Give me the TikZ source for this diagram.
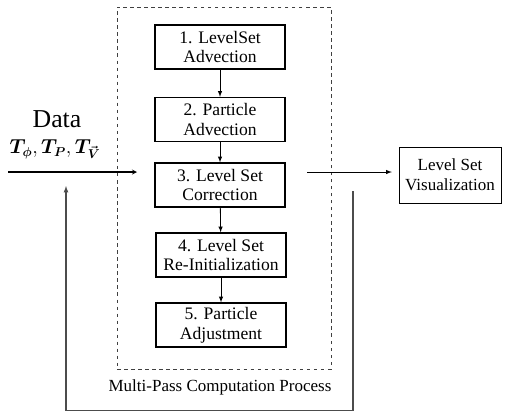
\documentclass[tikz,border=0pt]{standalone}
\usepackage{amsmath}
\usepackage{fontspec}
\setmainfont{Liberation Serif}
\usetikzlibrary{positioning}

\tikzset{
  etape/.style={draw, line width=1.1pt, align=center, minimum width=3.9cm,
    minimum height=1.32cm, inner sep=2pt, font=\rmfamily\fontsize{15}{17}\selectfont},
  fleche/.style={>=latex, ->, line width=0.7pt},
  retour/.style={line width=0.9pt, black!70}
}

\begin{document}
\begin{tikzpicture}[x=0.03cm, y={(0cm,-0.03cm)}, font=\rmfamily]
  \useasboundingbox (0,0) rectangle (507,412);
  % Cadre du processus
  \node (process) [draw, dashed, black!75, line width=0.7pt, minimum width=6.42cm,
    minimum height=10.86cm] at (224,188) {};
  \node (label) at (220,387) [font=\rmfamily\fontsize{14.5}{16}\selectfont] {Multi-Pass Computation Process};
  % Etapes
  \node (step1) [etape] at (220,47) {1. LevelSet\\Advection};
  \node (step2) [etape] at (220,119.5) {2. Particle\\Advection};
  \node (step3) [etape] at (220,185) {3. Level Set\\Correction};
  \node (step4) [etape] at (221,255) {4. Level Set\\Re-Initialization};
  \node (step5) [etape] at (221,325) {5. Particle\\Adjustment};
  \draw [fleche] (step1) -- (step2);
  \draw [fleche] (step2) -- (step3);
  \draw [fleche] (step3) -- (step4);
  \draw [fleche] (step4) -- (step5);
  % Donnees et sortie
  \node (data) at (57,119) [inner sep=0pt, font=\rmfamily\fontsize{22}{24}\selectfont] {Data};
  \node (params) at (55,149) [inner sep=0pt, font=\fontsize{16}{18}\selectfont]
    {$\boldsymbol{T_{\phi}},\boldsymbol{T_{P}},\boldsymbol{T_{\vec{V}}}$};
  \node (vis) [draw, line width=0.8pt, align=center, minimum width=3.06cm, minimum height=1.68cm,
    font=\rmfamily\fontsize{14.5}{17}\selectfont] at (450,175) {Level Set\\Visualization};
  \coordinate (in) at (8,172);
  \coordinate (entry) at (137,172);
  \coordinate (out) at (307,172);
  \draw [fleche, line width=0.9pt, >=stealth] (in) -- (entry);
  \draw [fleche, shorten >=0.2cm] (out) -- (vis.west |- out);
  % Boucle de retour
  \coordinate (fbtop) at (353,191);
  \coordinate (fbbot) at (66,410.5);
  \coordinate (fbend) at (66,186);
  \draw [retour, >=latex, ->] (fbtop) |- (fbbot) -- (fbend);
\end{tikzpicture}
\end{document}
